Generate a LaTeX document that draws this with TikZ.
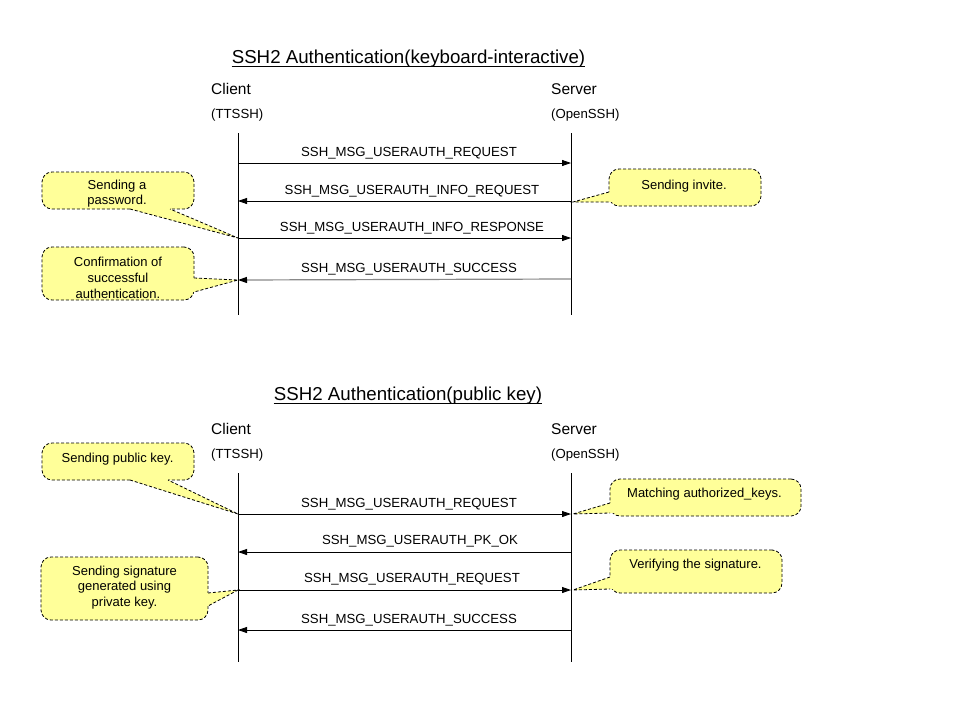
\documentclass[tikz,border=0pt]{standalone}
\usepackage{fontspec}
\setmainfont{Liberation Sans}
\usetikzlibrary{arrows.meta}
\definecolor{noteyellow}{HTML}{FFFF99}
\definecolor{msggray}{HTML}{888888}
\tikzset{
  life/.style={line width=0.8pt},
  msg/.style={line width=0.8pt,-{Triangle[length=9pt,width=6pt,color=black]}},
  msglabel/.style={anchor=base,inner sep=0pt,font=\fontsize{13.2}{15}\selectfont},
  titlelabel/.style={anchor=base,inner sep=0pt,font=\fontsize{18.7}{22}\selectfont},
  partlabel/.style={anchor=base west,inner sep=0pt,font=\fontsize{15.5}{18}\selectfont},
  sublabel/.style={anchor=base west,inner sep=0pt,font=\fontsize{13.2}{15}\selectfont},
  notebox/.style={draw,fill=noteyellow,dash pattern=on 3pt off 2pt,line width=0.8pt,rounded corners=10pt,inner sep=0pt},
  notetext/.style={inner sep=0pt,align=center,font=\fontsize{13}{15.7}\selectfont},
  tailfill/.style={fill=noteyellow},
  tailline/.style={dash pattern=on 3pt off 2pt,line width=0.8pt},
}
\begin{document}
\begin{tikzpicture}[x=1pt,y=-1pt]
\useasboundingbox (0,0) rectangle (960,720);

% ================= Diagram 1 =================
\node[titlelabel] (t1) at (408.5,63) {SSH2 Authentication(keyboard-interactive)};
\draw[line width=0.8pt] ([yshift=-3.5pt]t1.base west) -- ([yshift=-3.5pt]t1.base east);
\node[partlabel] (cl1) at (211,94) {Client};
\node[partlabel] (sv1) at (551,94) {Server};
\node[sublabel] (ct1) at (211,118) {(TTSSH)};
\node[sublabel] (so1) at (551,118) {(OpenSSH)};

\coordinate (cA) at (238,133); \coordinate (cAe) at (238,315);
\coordinate (sA) at (571,133); \coordinate (sAe) at (571,315);
\draw[life] (cA) -- (cAe);
\draw[life] (sA) -- (sAe);

\coordinate (c1) at (238,163); \coordinate (s1) at (571,163);
\coordinate (c2) at (238,201); \coordinate (s2) at (571,201);
\coordinate (c3) at (238,238); \coordinate (s3) at (571,238);
\coordinate (c4) at (238,280); \coordinate (s4) at (571,279);

\draw[msg] (c1) -- (s1);
\node[msglabel] (m1) at (409,156) {SSH\_MSG\_USERAUTH\_REQUEST};
\draw[msg] (s2) -- (c2);
\node[msglabel] (m2) at (412,194) {SSH\_MSG\_USERAUTH\_INFO\_REQUEST};
\draw[msg] (c3) -- (s3);
\node[msglabel] (m3) at (412,231) {SSH\_MSG\_USERAUTH\_INFO\_RESPONSE};
\draw[msg,draw=msggray,line width=1.2pt] (s4) -- (c4);
\node[msglabel] (m4) at (409,272) {SSH\_MSG\_USERAUTH\_SUCCESS};

% note: Sending a password
\node[notebox,minimum width=152pt,minimum height=37pt] (n1) at (118,190.5) {};
\fill[tailfill] (c3) -- (130,209) -- (130,205) -- (170,205) -- (170,209) -- cycle;
\draw[tailline] (130,209) -- (c3) -- (170,209);
\node[notetext] (n1t) at (117,193.5) {Sending a\\password.};

% note: Sending invite
\coordinate (tip2) at (573,202);
\node[notebox,minimum width=152pt,minimum height=37pt] (n2) at (685,187.5) {};
\fill[tailfill] (tip2) -- (609,192) -- (613,192) -- (613,202) -- (609,202) -- cycle;
\draw[tailline] (609,192) -- (tip2) -- (609,202);
\node[notetext] (n2t) at (684,186.5) {Sending invite.};

% note: Confirmation
\node[notebox,minimum width=152pt,minimum height=53pt] (n3) at (118,273.5) {};
\fill[tailfill] (c4) -- (194,278) -- (190,278) -- (190,292) -- (194,292) -- cycle;
\draw[tailline] (194,278) -- (c4) -- (194,292);
\node[notetext] (n3t) at (118,278) {Confirmation of\\successful\\authentication.};

% ================= Diagram 2 =================
\node[titlelabel] (t2) at (408,400) {SSH2 Authentication(public key)};
\draw[line width=0.8pt] ([yshift=-3.5pt]t2.base west) -- ([yshift=-3.5pt]t2.base east);
\node[partlabel] (cl2) at (211,434) {Client};
\node[partlabel] (sv2) at (551,434) {Server};
\node[sublabel] (ct2) at (211,458) {(TTSSH)};
\node[sublabel] (so2) at (551,458) {(OpenSSH)};

\coordinate (cB) at (238,473); \coordinate (cBe) at (238,662);
\coordinate (sB) at (571,473); \coordinate (sBe) at (571,662);
\draw[life] (cB) -- (cBe);
\draw[life] (sB) -- (sBe);

\coordinate (d1) at (238,514); \coordinate (r1) at (571,514);
\coordinate (d2) at (238,552); \coordinate (r2) at (571,552);
\coordinate (d3) at (238,590); \coordinate (r3) at (571,590);
\coordinate (d4) at (238,630); \coordinate (r4) at (571,630);

\draw[msg] (d1) -- (r1);
\node[msglabel] (p1) at (409,507) {SSH\_MSG\_USERAUTH\_REQUEST};
\draw[msg] (r2) -- (d2);
\node[msglabel] (p2) at (420,544) {SSH\_MSG\_USERAUTH\_PK\_OK};
\draw[msg] (d3) -- (r3);
\node[msglabel] (p3) at (412,582) {SSH\_MSG\_USERAUTH\_REQUEST};
\draw[msg] (r4) -- (d4);
\node[msglabel] (p4) at (409,623) {SSH\_MSG\_USERAUTH\_SUCCESS};

% note: Sending public key
\node[notebox,minimum width=152pt,minimum height=37pt] (n4) at (118,461.5) {};
\fill[tailfill] (d1) -- (130,480) -- (130,476) -- (168,476) -- (168,480) -- cycle;
\draw[tailline] (130,480) -- (d1) -- (168,480);
\node[notetext] (n4t) at (117.5,459.5) {Sending public key.};

% note: Matching authorized_keys
\coordinate (tip5) at (573,514);
\node[notebox,minimum width=191pt,minimum height=37pt] (n5) at (705.5,497.5) {};
\fill[tailfill] (tip5) -- (610,503) -- (614,503) -- (614,513) -- (610,513) -- cycle;
\draw[tailline] (610,503) -- (tip5) -- (610,513);
\node[notetext] (n5t) at (704.5,494.5) {Matching authorized\_keys.};

% note: Verifying the signature
\coordinate (tip6) at (573,590);
\node[notebox,minimum width=172pt,minimum height=43pt] (n6) at (696,571.5) {};
\fill[tailfill] (tip6) -- (610,577) -- (614,577) -- (614,589) -- (610,589) -- cycle;
\draw[tailline] (610,577) -- (tip6) -- (610,589);
\node[notetext] (n6t) at (695.5,565) {Verifying the signature.};

% note: Sending signature
\node[notebox,minimum width=167pt,minimum height=63pt] (n7) at (124.5,588.5) {};
\fill[tailfill] (d3) -- (208,593) -- (204,593) -- (204,606) -- (208,606) -- cycle;
\draw[tailline] (208,593) -- (d3) -- (208,606);
\node[notetext] (n7t) at (124.5,587.5) {Sending signature\\generated using\\private key.};
\end{tikzpicture}
\end{document}
